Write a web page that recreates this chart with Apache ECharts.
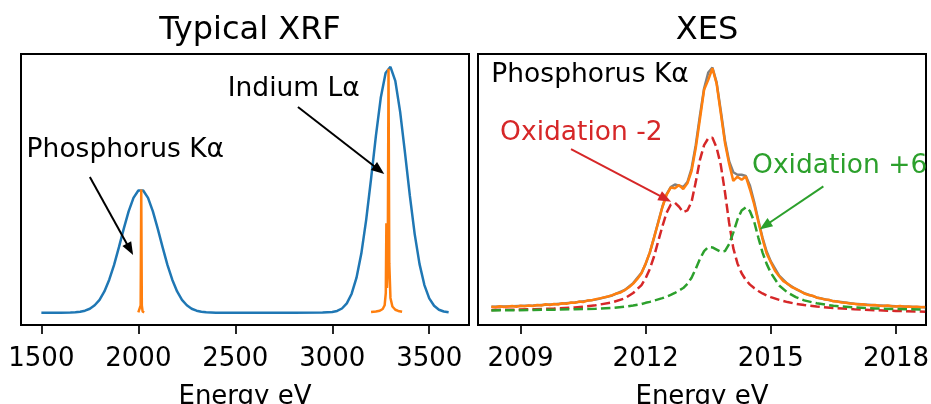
<!DOCTYPE html>
<html><head><meta charset="utf-8">
<script src="https://cdn.jsdelivr.net/npm/echarts@6/dist/echarts.min.js"></script>
<style>html,body{margin:0;padding:0;background:#fff}#c{width:931px;height:404px}</style>
</head><body><div id="c"></div>
<script>
// ---------- DATA ----------
const panelTitles = ['Typical XRF', 'XES'];
const axisName = 'Energy eV';
const xrfTicks = [1500, 2000, 2500, 3000, 3500];
const xesTicks = [2009, 2012, 2015, 2018];

// Typical XRF: broad detector response (blue)
const xrfEnergy = [1500, 1600, 1650, 1675, 1700, 1725, 1750, 1775, 1800, 1825, 1850, 1875, 1900, 1925, 1950, 1975, 2000, 2025, 2050, 2075, 2100, 2125, 2150, 2175, 2200, 2225, 2250, 2275, 2300, 2325, 2350, 2375, 2400, 2600, 2800, 2950, 3000, 3025, 3050, 3075, 3100, 3125, 3150, 3175, 3200, 3225, 3250, 3275, 3300, 3325, 3350, 3375, 3400, 3425, 3450, 3475, 3500, 3525, 3550, 3575, 3600];
const xrfBlue = [0, 0, 0.001, 0.002, 0.004, 0.008, 0.016, 0.030, 0.052, 0.086, 0.134, 0.194, 0.266, 0.341, 0.411, 0.466, 0.496, 0.496, 0.466, 0.411, 0.341, 0.266, 0.194, 0.134, 0.086, 0.052, 0.030, 0.016, 0.008, 0.004, 0.002, 0.001, 0, 0, 0, 0.001, 0.003, 0.007, 0.017, 0.038, 0.077, 0.142, 0.241, 0.378, 0.543, 0.718, 0.872, 0.973, 0.998, 0.941, 0.815, 0.649, 0.475, 0.319, 0.197, 0.112, 0.058, 0.028, 0.012, 0.005, 0.002];
// Typical XRF: natural line shapes (orange)
const pLineEnergy = [2000, 2008, 2012, 2015, 2018, 2022, 2030];
const pLineInt = [0.001, 0.005, 0.03, 0.5, 0.03, 0.005, 0.001];
const inLineEnergy = [3200, 3225, 3245, 3260, 3270, 3276, 3279, 3282, 3286, 3290, 3294, 3300, 3310, 3325, 3340, 3360];
const inLineInt = [0.003, 0.005, 0.008, 0.015, 0.03, 0.08, 0.363, 0.1, 0.2, 0.99, 0.2, 0.06, 0.025, 0.012, 0.007, 0.004];

// XES components
const xesEnergy = [2008.3, 2008.8, 2009.3, 2009.8, 2010.3, 2010.8, 2011.2, 2011.5, 2011.7, 2011.9, 2012.0, 2012.1, 2012.2, 2012.3, 2012.4, 2012.5, 2012.6, 2012.7, 2012.8, 2012.9, 2013.0, 2013.1, 2013.2, 2013.3, 2013.4, 2013.5, 2013.6, 2013.7, 2013.8, 2013.9, 2014.0, 2014.1, 2014.2, 2014.3, 2014.4, 2014.5, 2014.6, 2014.7, 2014.8, 2014.9, 2015.0, 2015.2, 2015.4, 2015.6, 2015.8, 2016.1, 2016.5, 2017.0, 2017.5, 2018.0, 2018.7];
const oxMinus2 = [0.011, 0.012, 0.014, 0.017, 0.021, 0.030, 0.042, 0.058, 0.080, 0.112, 0.140, 0.178, 0.228, 0.290, 0.350, 0.405, 0.438, 0.446, 0.430, 0.408, 0.415, 0.450, 0.530, 0.620, 0.680, 0.708, 0.710, 0.670, 0.600, 0.490, 0.365, 0.262, 0.200, 0.160, 0.133, 0.114, 0.100, 0.088, 0.078, 0.070, 0.063, 0.052, 0.043, 0.036, 0.031, 0.025, 0.019, 0.014, 0.010, 0.007, 0.004];
const oxPlus6 = [0.009, 0.010, 0.011, 0.012, 0.014, 0.016, 0.019, 0.024, 0.029, 0.035, 0.040, 0.044, 0.049, 0.054, 0.059, 0.065, 0.072, 0.080, 0.090, 0.100, 0.117, 0.142, 0.178, 0.218, 0.250, 0.266, 0.265, 0.256, 0.247, 0.250, 0.278, 0.325, 0.378, 0.415, 0.428, 0.412, 0.370, 0.305, 0.245, 0.198, 0.162, 0.110, 0.082, 0.063, 0.050, 0.038, 0.028, 0.021, 0.017, 0.015, 0.013];
const xesFit = [0.024, 0.026, 0.029, 0.034, 0.041, 0.053, 0.070, 0.092, 0.120, 0.162, 0.198, 0.245, 0.305, 0.368, 0.430, 0.480, 0.510, 0.520, 0.515, 0.510, 0.530, 0.585, 0.680, 0.800, 0.910, 0.975, 0.995, 0.935, 0.820, 0.700, 0.615, 0.570, 0.560, 0.560, 0.555, 0.515, 0.450, 0.375, 0.305, 0.248, 0.208, 0.150, 0.117, 0.096, 0.079, 0.062, 0.047, 0.036, 0.030, 0.026, 0.022];
// XES measured (noisy)
const xesMeasEnergy = [2008.3, 2008.4, 2008.5, 2008.6, 2008.7, 2008.8, 2008.9, 2009.0, 2009.1, 2009.2, 2009.3, 2009.4, 2009.5, 2009.6, 2009.7, 2009.8, 2009.9, 2010.0, 2010.1, 2010.2, 2010.3, 2010.4, 2010.5, 2010.6, 2010.7, 2010.8, 2010.9, 2011.0, 2011.1, 2011.2, 2011.3, 2011.4, 2011.5, 2011.6, 2011.7, 2011.8, 2011.9, 2012.0, 2012.1, 2012.2, 2012.3, 2012.4, 2012.5, 2012.6, 2012.7, 2012.8, 2012.9, 2013.0, 2013.1, 2013.2, 2013.3, 2013.4, 2013.5, 2013.6, 2013.7, 2013.8, 2013.9, 2014.0, 2014.1, 2014.2, 2014.3, 2014.4, 2014.5, 2014.6, 2014.7, 2014.8, 2014.9, 2015.0, 2015.1, 2015.2, 2015.3, 2015.4, 2015.5, 2015.6, 2015.7, 2015.8, 2015.9, 2016.0, 2016.1, 2016.2, 2016.3, 2016.4, 2016.5, 2016.6, 2016.7, 2016.8, 2016.9, 2017.0, 2017.1, 2017.2, 2017.3, 2017.4, 2017.5, 2017.6, 2017.7, 2017.8, 2017.9, 2018.0, 2018.1, 2018.2, 2018.3, 2018.4, 2018.5, 2018.6, 2018.7];
const xesMeas = [0.024, 0.022, 0.026, 0.023, 0.025, 0.027, 0.024, 0.028, 0.026, 0.029,
  0.027, 0.031, 0.029, 0.034, 0.031, 0.035, 0.033, 0.038, 0.036, 0.041,
  0.040, 0.045, 0.043, 0.049, 0.050, 0.055, 0.058, 0.062, 0.066, 0.071,
  0.078, 0.082, 0.092, 0.103, 0.118, 0.137, 0.160, 0.200, 0.245, 0.305,
  0.365, 0.428, 0.478, 0.508, 0.505, 0.518, 0.502, 0.525, 0.575, 0.668,
  0.785, 0.905, 0.945, 0.992, 0.930, 0.810, 0.690, 0.605, 0.535, 0.552,
  0.540, 0.553, 0.500, 0.440, 0.370, 0.300, 0.240, 0.205, 0.170, 0.148,
  0.128, 0.118, 0.104, 0.097, 0.088, 0.078, 0.072, 0.069, 0.061, 0.058,
  0.053, 0.052, 0.046, 0.045, 0.041, 0.040, 0.037, 0.036, 0.033, 0.034,
  0.031, 0.030, 0.031, 0.028, 0.027, 0.029, 0.026, 0.025, 0.027, 0.024,
  0.025, 0.023, 0.024, 0.022, 0.023];

// Annotations (data coordinates)
const annoTexts = [
  {g: 0, text: 'Phosphorus Kα', x: 1424, y: 0.66, color: '#000000'},
  {g: 0, text: 'Indium Lα', x: 2461, y: 0.908, color: '#000000'},
  {g: 1, text: 'Phosphorus Kα', x: 2008.30, y: 0.965, color: '#000000'},
  {g: 1, text: 'Oxidation -2', x: 2008.51, y: 0.73, color: '#d62728'},
  {g: 1, text: 'Oxidation +6', x: 2014.55, y: 0.594, color: '#2ca02c'}
];
const annoArrows = [
  {g: 0, from: [1750, 0.551], to: [1973, 0.234], color: '#000000'},
  {g: 0, from: [2823, 0.835], to: [3268, 0.563], color: '#000000'},
  {g: 1, from: [2010.21, 0.664], to: [2012.61, 0.45], color: '#d62728'},
  {g: 1, from: [2016.26, 0.513], to: [2014.73, 0.338], color: '#2ca02c'}
];

// ---------- CHART ----------
const FONT = '"DejaVu Sans", sans-serif';
const pair = (xs, ys) => xs.map((x, i) => [x, ys[i]]);
const chart = echarts.init(document.getElementById('c'), null, {renderer: 'canvas'});

function xAxisCfg(gi, min, max, ticks) {
  return {
    gridIndex: gi, type: 'value', min: min, max: max, position: 'bottom',
    axisLine: {show: false, onZero: false}, splitLine: {show: false},
    axisTick: {show: true, inside: false, customValues: ticks, length: 9, lineStyle: {color: '#000', width: 1.7}},
    axisLabel: {show: true, inside: false, customValues: ticks, fontSize: 26, color: '#000', margin: 21, fontFamily: FONT,
      formatter: v => String(v)},
    name: axisName, nameLocation: 'middle', nameGap: 59,
    nameTextStyle: {fontSize: 26, color: '#000', fontFamily: FONT}
  };
}
function yAxisCfg(gi) {
  return {gridIndex: gi, type: 'value', min: -0.05, max: 1.05,
    axisLine: {show: false, onZero: false}, axisTick: {show: false}, axisLabel: {show: false}, splitLine: {show: false}};
}
function lineSeries(gi, data, color, dashed) {
  return {type: 'line', xAxisIndex: gi, yAxisIndex: gi, data: data, symbol: 'none', showSymbol: false,
    silent: true, animation: false, z: 2,
    lineStyle: {color: color, width: 2.5, type: dashed ? [9.5, 4.2] : 'solid'}};
}

chart.setOption({
  animation: false,
  backgroundColor: '#ffffff',
  textStyle: {fontFamily: FONT},
  title: [
    {text: panelTitles[0], left: 245, top: 10, textAlign: 'center',
     textStyle: {fontSize: 32, fontWeight: 'normal', color: '#000', fontFamily: FONT}},
    {text: panelTitles[1], left: 702, top: 10, textAlign: 'center',
     textStyle: {fontSize: 32, fontWeight: 'normal', color: '#000', fontFamily: FONT}}
  ],
  grid: [
    {left: 21, top: 54, width: 448, height: 271, show: true, borderColor: '#000', borderWidth: 2, backgroundColor: 'transparent', containLabel: false, outerBoundsMode: 'none'},
    {left: 478, top: 54, width: 448, height: 271, show: true, borderColor: '#000', borderWidth: 2, backgroundColor: 'transparent', containLabel: false, outerBoundsMode: 'none'}
  ],
  xAxis: [xAxisCfg(0, 1395, 3705, xrfTicks), xAxisCfg(1, 2007.98, 2018.72, xesTicks)],
  yAxis: [yAxisCfg(0), yAxisCfg(1)],
  series: [
    lineSeries(0, pair(xrfEnergy, xrfBlue), '#1f77b4', false),
    lineSeries(0, pair(pLineEnergy, pLineInt), '#ff7f0e', false),
    lineSeries(0, pair(inLineEnergy, inLineInt), '#ff7f0e', false),
    lineSeries(1, pair(xesEnergy, xesFit), '#808080', false),
    lineSeries(1, pair(xesMeasEnergy, xesMeas), '#ff7f0e', false),
    lineSeries(1, pair(xesEnergy, oxMinus2), '#d62728', true),
    lineSeries(1, pair(xesEnergy, oxPlus6), '#2ca02c', true)
  ]
});

const graphics = [];
annoTexts.forEach(a => {
  const p = chart.convertToPixel({gridIndex: a.g}, [a.x, a.y]);
  graphics.push({type: 'text', x: p[0], y: p[1], silent: true, z: 10,
    style: {text: a.text, fill: a.color, font: '26.5px "DejaVu Sans"', align: 'left', verticalAlign: 'middle'}});
});
annoArrows.forEach(a => {
  const p0 = chart.convertToPixel({gridIndex: a.g}, a.from);
  const p1 = chart.convertToPixel({gridIndex: a.g}, a.to);
  const dx = p1[0] - p0[0], dy = p1[1] - p0[1];
  const L = Math.hypot(dx, dy), ux = dx / L, uy = dy / L;
  const hl = 13, hw = 5;
  const bx = p1[0] - ux * hl, by = p1[1] - uy * hl;
  graphics.push({type: 'line', silent: true, z: 10, shape: {x1: p0[0], y1: p0[1], x2: bx + ux * 2, y2: by + uy * 2},
    style: {stroke: a.color, lineWidth: 2}});
  graphics.push({type: 'polygon', silent: true, z: 10,
    shape: {points: [[p1[0], p1[1]], [bx - uy * hw, by + ux * hw], [bx + uy * hw, by - ux * hw]]},
    style: {fill: a.color}});
});
chart.setOption({graphic: graphics});
</script>
</body></html>
